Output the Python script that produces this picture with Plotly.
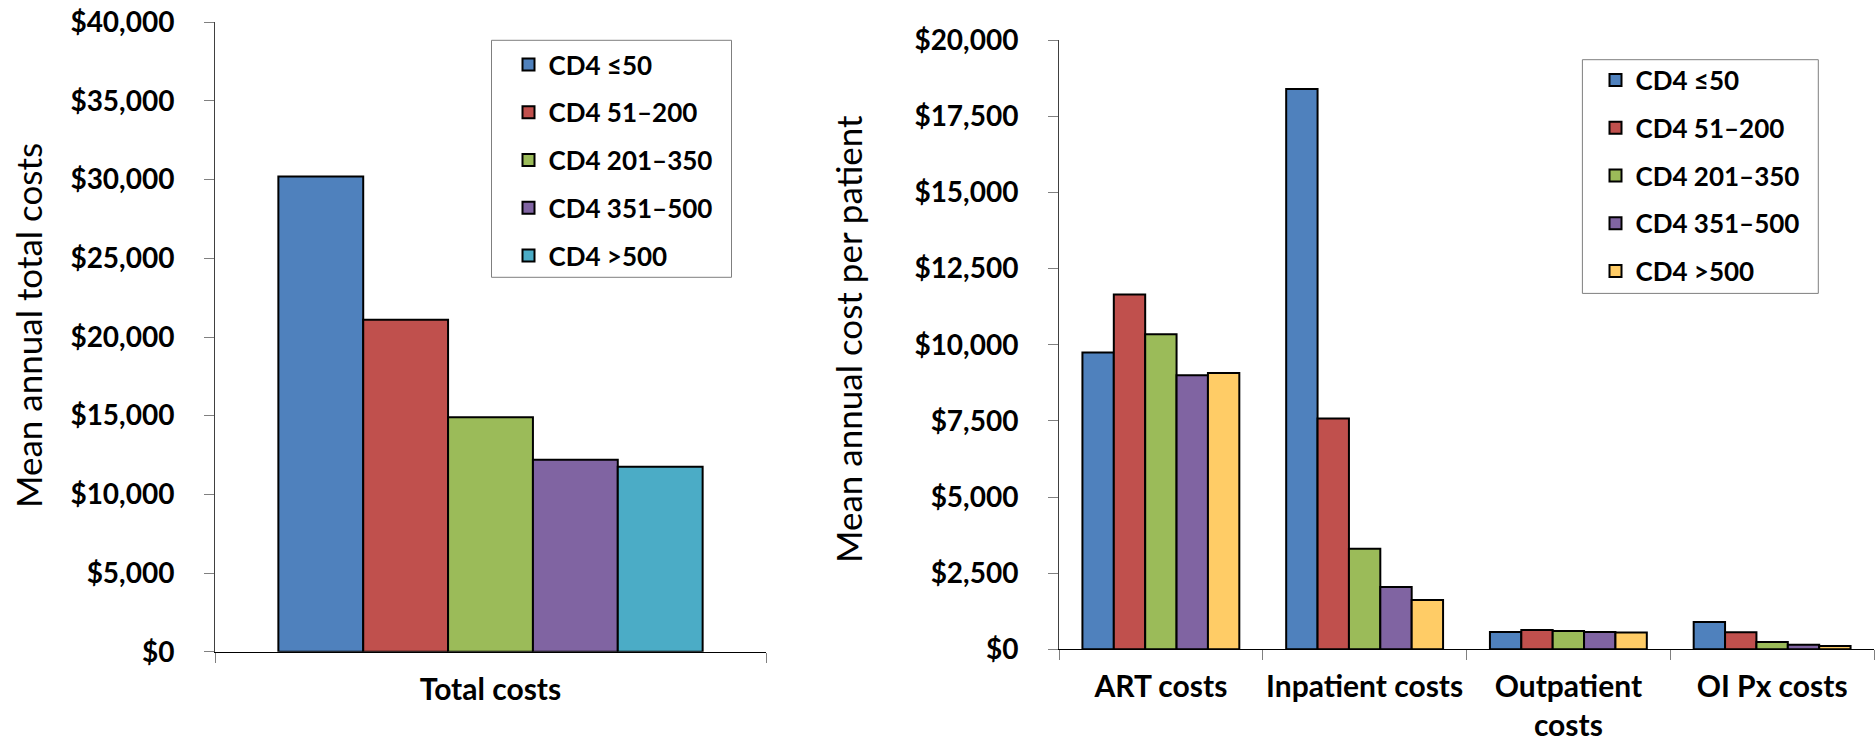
import plotly.graph_objects as go

W, H = 1876, 743

# ---- data ----
groups = ["CD4 ≤50", "CD4 51–200", "CD4 201–350", "CD4 351–500", "CD4 >500"]
colors_total = ["#4F81BD", "#C0504D", "#9BBB59", "#8064A2", "#4BACC6"]
colors_cat = ["#4F81BD", "#C0504D", "#9BBB59", "#8064A2", "#FFCC66"]

total_category = ["Total costs"]
total_costs = [30200, 21100, 14900, 12200, 11750]

cost_categories = ["ART costs", "Inpatient costs", "Outpatient<br>costs", "OI Px costs"]
art_costs = [9750, 11650, 10350, 9000, 9075]
inpatient_costs = [18400, 7580, 3300, 2050, 1620]
outpatient_costs = [570, 630, 600, 570, 550]
oipx_costs = [900, 560, 240, 150, 105]

# ---- fonts ----
YTICK_FONT = dict(family="Lato", size=28, color="#000000", weight="bold")
XTICK_FONT = dict(family="Lato", size=30, color="#000000", weight="bold")
LEGEND_FONT = dict(family="Lato", size=26, color="#000000", weight="bold")
TITLE_FONT = dict(family="Lato", size=35, color="#000000")

fig = go.Figure()

# left panel: total costs
for i, g in enumerate(groups):
    fig.add_trace(go.Bar(
        x=total_category, y=[total_costs[i]], name=g,
        marker=dict(color=colors_total[i], line=dict(color="#000000", width=2)),
        xaxis="x", yaxis="y", legend="legend", legendgroup="L" + str(i),
    ))

# right panel: costs by component
per_group = list(zip(art_costs, inpatient_costs, outpatient_costs, oipx_costs))
for i, g in enumerate(groups):
    fig.add_trace(go.Bar(
        x=cost_categories, y=list(per_group[i]), name=g,
        marker=dict(color=colors_cat[i], line=dict(color="#000000", width=2)),
        xaxis="x2", yaxis="y2", legend="legend2", legendgroup="R" + str(i),
    ))

def px_x(v):
    return v / W

def px_y(v):
    return 1 - v / H

xa_common = dict(
    type="category", showline=True, linecolor="#000000", linewidth=1,
    ticks="outside", tickson="boundaries", ticklen=10, tickcolor="#808080",
    tickwidth=1, showgrid=False, zeroline=False, tickfont=XTICK_FONT,
    ticklabelstandoff=11, tickangle=0, automargin=False,
)
ya_common = dict(
    showline=True, linecolor="#404040", linewidth=1, ticks="outside",
    ticklen=10, tickcolor="#808080", tickwidth=1, showgrid=False,
    zeroline=False, tickprefix="$", tickformat=",d", tickfont=YTICK_FONT,
    ticklabelstandoff=24, automargin=False,
)

fig.update_layout(
    width=W, height=H,
    margin=dict(l=0, r=0, t=0, b=0, autoexpand=False),
    paper_bgcolor="white", plot_bgcolor="white",
    barmode="group", bargap=0.23, bargroupgap=0,
    xaxis=dict(domain=[px_x(215), px_x(766)], anchor="y", **xa_common),
    yaxis=dict(domain=[px_y(651.7), px_y(22.3)], anchor="x",
               range=[0, 40000], dtick=5000, **ya_common),
    xaxis2=dict(domain=[px_x(1059), px_x(1874)], anchor="y2", **xa_common),
    yaxis2=dict(domain=[px_y(649.3), px_y(40.3)], anchor="x2",
                range=[0, 20000], dtick=2500, **ya_common),
    legend=dict(x=px_x(508.5), y=px_y(41), xanchor="left", yanchor="top",
                font=LEGEND_FONT, bgcolor="rgba(0,0,0,0)", borderwidth=0,
                tracegroupgap=11, traceorder="grouped"),
    legend2=dict(x=px_x(1595.5), y=px_y(56.5), xanchor="left", yanchor="top",
                 font=LEGEND_FONT, bgcolor="rgba(0,0,0,0)", borderwidth=0,
                 tracegroupgap=11, traceorder="grouped"),
    shapes=[
        dict(type="rect", xref="paper", yref="paper",
             x0=px_x(491.5), x1=px_x(731.5), y0=px_y(277.3), y1=px_y(40.3),
             line=dict(color="#7F7F7F", width=1)),
        dict(type="rect", xref="paper", yref="paper",
             x0=px_x(1582.4), x1=px_x(1818.3), y0=px_y(293.4), y1=px_y(59.7),
             line=dict(color="#7F7F7F", width=1)),
    ],
    annotations=[
        dict(text="Mean annual total costs", xref="paper", yref="paper",
             x=px_x(28), y=px_y(326), textangle=-90, showarrow=False,
             font=TITLE_FONT, xanchor="center", yanchor="middle"),
        dict(text="Mean annual cost per patient", xref="paper", yref="paper",
             x=px_x(848), y=px_y(339), textangle=-90, showarrow=False,
             font=TITLE_FONT, xanchor="center", yanchor="middle"),
    ],
    showlegend=True,
)

fig.write_html("out.html")
